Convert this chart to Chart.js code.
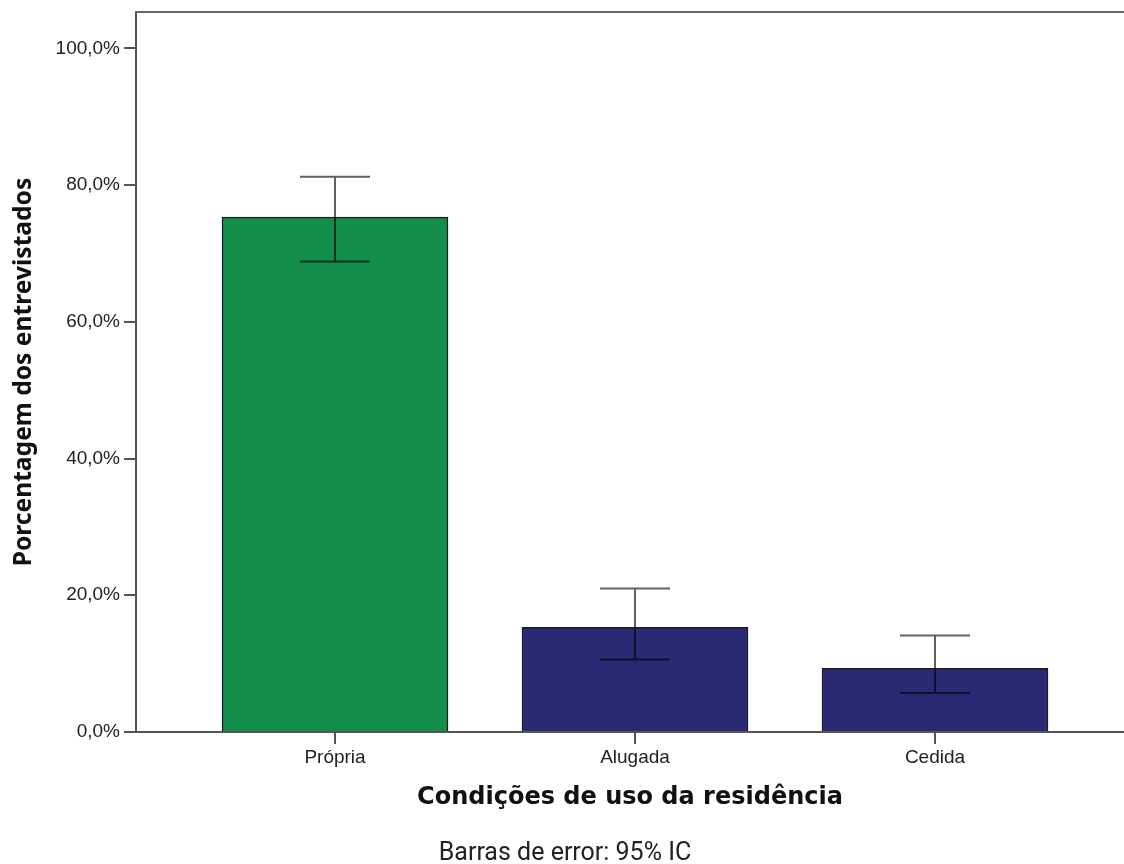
<!DOCTYPE html>
<html>
<head>
<meta charset="utf-8">
<script src="https://cdn.jsdelivr.net/npm/chart.js@4.4.1/dist/chart.umd.min.js"></script>
<style>
html,body{margin:0;padding:0;background:#ffffff;}
#wrap{width:1124px;height:864px;position:relative;}
</style>
</head>
<body>
<div id="wrap"><canvas id="c" width="1124" height="864"></canvas></div>
<script>
// ---- data ----
const categories = ['Própria', 'Alugada', 'Cedida'];
const percentages = [75.3, 15.3, 9.3];
const ciLower = [68.8, 10.6, 5.7];
const ciUpper = [81.2, 21.0, 14.1];
const barColors = ['#128D4A', '#292A73', '#292A73'];
const yTickValues = [0, 20, 40, 60, 80, 100];
const xAxisTitle = 'Condições de uso da residência';
const yAxisTitle = 'Porcentagem dos entrevistados';
const footNote = 'Barras de error: 95% IC';

const errorBarPlugin = {
  id: 'errorBars',
  afterDatasetsDraw(chart) {
    const ctx = chart.ctx;
    const xs = chart.scales.x, ys = chart.scales.y;
    ctx.save();
    ctx.strokeStyle = 'rgba(0,0,0,0.62)';
    ctx.lineWidth = 2;
    categories.forEach((c, i) => {
      const x = xs.getPixelForValue(i);
      const yl = ys.getPixelForValue(ciLower[i]);
      const yu = ys.getPixelForValue(ciUpper[i]);
      const half = 35;
      ctx.beginPath();
      ctx.moveTo(x, yl); ctx.lineTo(x, yu);
      ctx.moveTo(x - half, yu); ctx.lineTo(x + half, yu);
      ctx.moveTo(x - half, yl); ctx.lineTo(x + half, yl);
      ctx.stroke();
    });
    ctx.restore();
  },
  afterDraw(chart) {
    const ctx = chart.ctx;
    const a = chart.chartArea;
    ctx.save();
    ctx.strokeStyle = '#666666';
    ctx.lineWidth = 2;
    ctx.beginPath();
    ctx.moveTo(a.left - 1, a.top);
    ctx.lineTo(a.right + 2, a.top);
    ctx.stroke();
    ctx.fillStyle = '#222222';
    ctx.font = '25px Roboto';
    ctx.textAlign = 'center';
    ctx.textBaseline = 'alphabetic';
    ctx.fillText(footNote, 565, 860);
    ctx.restore();
  }
};

const chart = new Chart(document.getElementById('c'), {
  type: 'bar',
  data: {
    datasets: [{
      data: categories.map((c, i) => ({ x: i, y: percentages[i] })),
      backgroundColor: barColors,
      borderColor: '#1c1c1c',
      borderWidth: 1.5,
      barThickness: 226
    }]
  },
  options: {
    responsive: false,
    animation: false,
    events: [],
    layout: { padding: { left: 0, right: 0, top: 12, bottom: 51.6 } },
    plugins: { legend: { display: false }, tooltip: { enabled: false } },
    scales: {
      x: {
        type: 'linear',
        min: (136 - 335) / 300,
        max: (1124 - 335) / 300,
        offset: false,
        afterBuildTicks: (s) => { s.ticks = categories.map((c, i) => ({ value: i })); },
        afterFit: (s) => { s.height = 80.4; s.paddingLeft = 0; s.paddingRight = 0; },
        ticks: {
          callback: (v) => categories[v],
          font: { family: 'Liberation Sans', size: 19 },
          color: '#222222',
          padding: 2,
          maxRotation: 0,
          autoSkip: false
        },
        grid: { offset: false, drawOnChartArea: false, drawTicks: true, tickLength: 12, color: '#555555', lineWidth: 2 },
        border: { display: true, color: '#555555', width: 2 },
        title: {
          display: true,
          text: xAxisTitle,
          font: { family: 'DejaVu Sans', size: 24, weight: 'bold' },
          color: '#111111',
          padding: { top: 0, bottom: 0 }
        }
      },
      y: {
        min: 0,
        max: (732 - 12) / 6.837,
        afterBuildTicks: (s) => { s.ticks = yTickValues.map(v => ({ value: v })); },
        afterFit: (s) => { s.width = 136; s.paddingTop = 0; s.paddingBottom = 0; },
        ticks: {
          callback: (v) => v.toFixed(1).replace('.', ',') + '%',
          font: { family: 'Liberation Sans', size: 19 },
          color: '#222222',
          padding: 4
        },
        grid: { drawOnChartArea: false, drawTicks: true, tickLength: 12, color: '#555555', lineWidth: 2 },
        border: { display: true, color: '#555555', width: 2 },
        title: {
          display: true,
          text: yAxisTitle,
          font: { family: 'Noto Sans', size: 24.6, weight: 'bold' },
          color: '#111111',
          padding: { top: 9, bottom: 0 }
        }
      }
    }
  },
  plugins: [errorBarPlugin]
});
</script>
</body>
</html>
